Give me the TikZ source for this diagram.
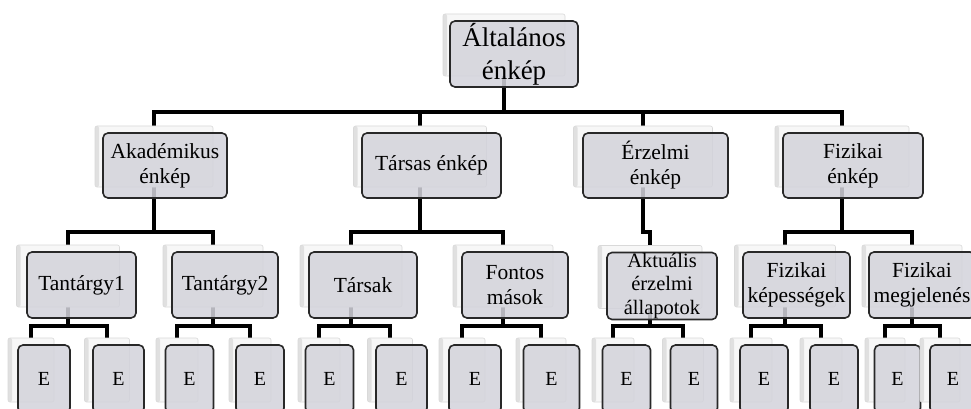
\documentclass[tikz,border=0pt]{standalone}
\usepackage{fontspec}
\setmainfont{Liberation Serif}
\pgfdeclarelayer{background}
\pgfsetlayers{background,main}
\definecolor{boxfill}{RGB}{211,211,219}
\definecolor{boxline}{RGB}{40,40,40}
\tikzset{
  frontbox/.style={draw=boxline, line width=1.6pt, rounded corners=5pt,
    fill=boxfill, fill opacity=0.86, text opacity=1, text=black,
    align=center, inner sep=0pt},
  backcard/.style={draw=gray!30, line width=0.6pt, fill=gray!6,
    rounded corners=2pt, inner sep=0pt,
    path picture={\fill[gray!24] (path picture bounding box.north west)
      rectangle ([xshift=4pt]path picture bounding box.south west);}},
  conn/.style={line width=3.4pt, black, line cap=rect},
  lvtop/.style={font=\fontsize{27}{33}\selectfont},
  lvmid/.style={font=\fontsize{21.5}{25}\selectfont},
  lvsmall/.style={font=\fontsize{20.5}{23.5}\selectfont},
  lvleaf/.style={font=\fontsize{20}{22}\selectfont},
}
% #1 name, #2 front centre x, #3 front centre y, #4 width, #5 height,
% #6 card centre x (connector anchor), #7 text, #8 text style
% the card behind the box is named #1-card
\newcommand\cardpair[8]{%
  \node[backcard, minimum width=#4-6, minimum height=#5-4] (#1-card) at (#6,#3-9) {};
  \node[frontbox, minimum width=#4, minimum height=#5, #8] (#1) at (#2,#3) {#7};
}
\begin{document}
\begin{tikzpicture}[x=1pt, y=-1pt]
\useasboundingbox (0,0) rectangle (971,409);
\clip (0,0) rectangle (971,409);

% levels of horizontal bars
\coordinate (L1) at (0,112);
\coordinate (L2) at (0,232);
\coordinate (L3) at (0,326);

% root
\cardpair{root}{514}{54}{128}{66}{504}{Általános\\énkép}{lvtop}

% second level
\cardpair{akad}{165}{165.5}{124}{65}{154}{Akadémikus\\énkép}{lvmid}
\cardpair{tars}{431.5}{165.5}{139}{65}{420}{Társas énkép}{lvmid}
\cardpair{erz}{655.5}{165.5}{145}{65}{643}{Érzelmi\\énkép}{lvmid}
\cardpair{fiz}{853}{165.5}{140}{65}{842}{Fizikai\\énkép}{lvmid}

% third level
\cardpair{t1}{81.5}{285}{109}{66}{68}{Tantárgy1}{lvmid}
\cardpair{t2}{225}{285}{106}{66}{213}{Tantárgy2}{lvmid}
\cardpair{tk}{363}{285}{108}{66}{351}{Társak}{lvmid}
\cardpair{fm}{515}{285}{106}{66}{503}{Fontos\\mások}{lvmid}
\cardpair{ak}{662}{286}{110}{67}{650}{Aktuális\\érzelmi\\állapotok}{lvsmall}
\cardpair{fk}{796.5}{285}{107}{66}{785}{Fizikai\\képességek}{lvmid}
\cardpair{fmj}{922}{285}{106}{66}{912}{Fizikai\\megjelenés}{lvmid}

% leaves
\cardpair{t1-l}{44}{379}{52}{68}{31}{E}{lvleaf}
\cardpair{t1-r}{118.5}{379}{51}{68}{107}{E}{lvleaf}
\cardpair{t2-l}{189.5}{379}{48}{68}{177}{E}{lvleaf}
\cardpair{t2-r}{260}{379}{48}{68}{250}{E}{lvleaf}
\cardpair{tk-l}{329.5}{379}{48}{68}{319}{E}{lvleaf}
\cardpair{tk-r}{401.5}{379}{51}{68}{390}{E}{lvleaf}
\cardpair{fm-l}{475}{379}{52}{68}{462}{E}{lvleaf}
\cardpair{fm-r}{551.5}{379}{56}{68}{541}{E}{lvleaf}
\cardpair{ak-l}{626.5}{379}{48}{68}{613}{E}{lvleaf}
\cardpair{ak-r}{694}{379}{47}{68}{683}{E}{lvleaf}
\cardpair{fk-l}{764}{379}{48}{68}{751}{E}{lvleaf}
\cardpair{fk-r}{834}{379}{48}{68}{821}{E}{lvleaf}
\cardpair{fmj-l}{897.5}{379}{46}{68}{885}{E}{lvleaf}
\cardpair{fmj-r}{953}{379}{46}{68}{940}{E}{lvleaf}

\begin{pgfonlayer}{background}
  \fill[white] (0,0) rectangle (971,409);
  \foreach \c in {akad,tars,erz,fiz}
    \draw[conn] (root-card.center) -- (root-card.center |- L1) -| (\c-card.center);
  \foreach \p/\c in {akad/t1, akad/t2, tars/tk, tars/fm, erz/ak, fiz/fk, fiz/fmj}
    \draw[conn] (\p-card.center) -- (\p-card.center |- L2) -| (\c-card.center);
  \foreach \p in {t1,t2,tk,fm,ak,fk,fmj}{
    \draw[conn] (\p-card.center) -- (\p-card.center |- L3) -| (\p-l-card.center);
    \draw[conn] (\p-card.center) -- (\p-card.center |- L3) -| (\p-r-card.center);
  }
\end{pgfonlayer}
\end{tikzpicture}
\end{document}
